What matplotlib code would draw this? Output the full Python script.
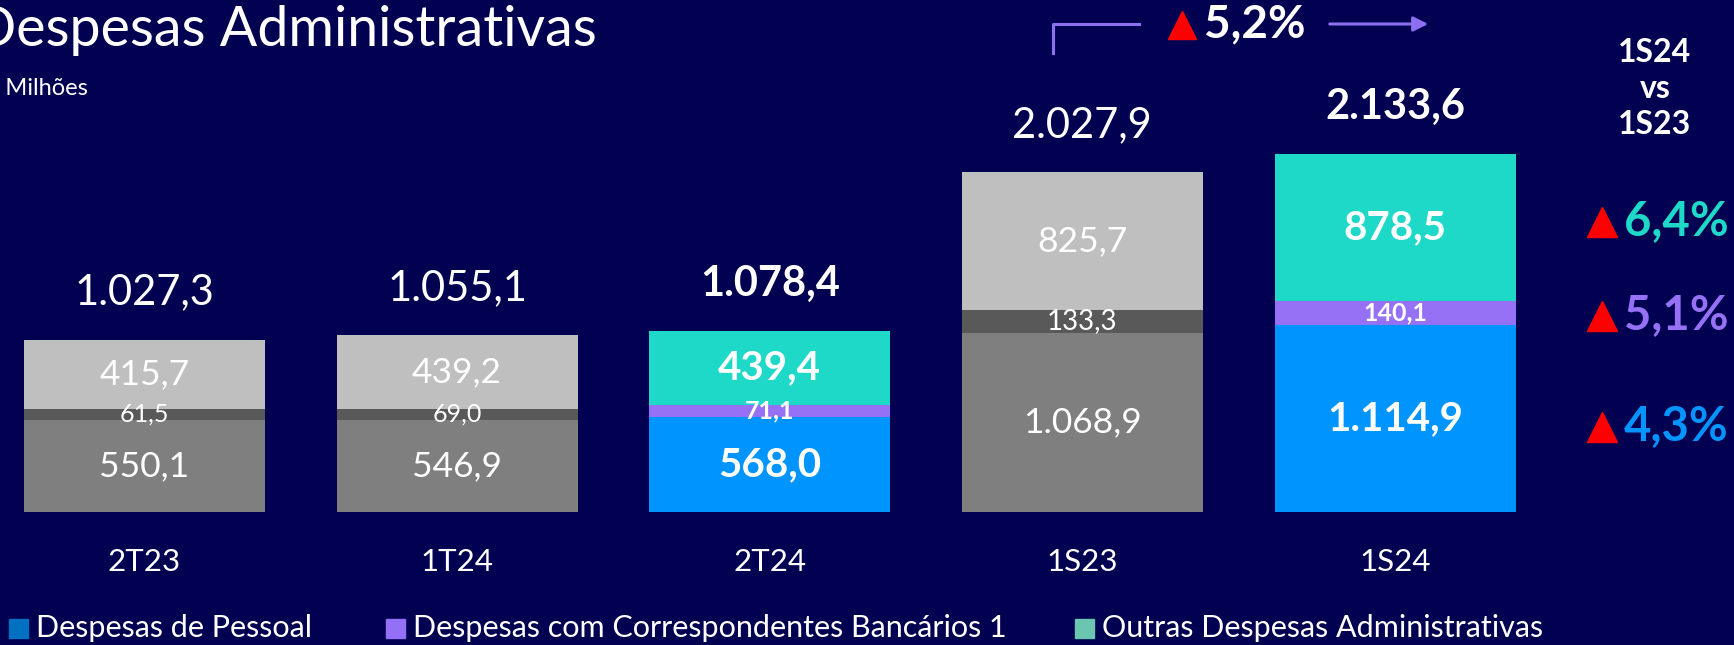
import numpy as np
import matplotlib
matplotlib.use("Agg")
import matplotlib.pyplot as plt
from matplotlib.lines import Line2D
from matplotlib.patches import Rectangle, FancyArrowPatch

# ── dados ─────────────────────────────────────────────────────────────
periods         = ["2T23", "1T24", "2T24", "1S23", "1S24"]
pessoal         = [550.1, 546.9, 568.0, 1068.9, 1114.9]
correspondentes = [61.5, 69.0, 71.1, 133.3, 140.1]
outras          = [415.7, 439.2, 439.4, 825.7, 878.5]
totals          = [1027.3, 1055.1, 1078.4, 2027.9, 2133.6]
highlight       = [False, False, True, False, True]

var_total = 5.2                       # 1S24 vs 1S23
var_rows  = [6.4, 5.1, 4.3]           # outras, correspondentes, pessoal

legend_labels = ["Despesas de Pessoal",
                 "Despesas com Correspondentes Bancários 1",
                 "Outras Despesas Administrativas"]

# ── estilo ────────────────────────────────────────────────────────────
BG = "#020050"
GREY = ["#7F7F7F", "#595959", "#BFBFBF"]        # pessoal, corresp., outras
COLOR = ["#0094FF", "#9670F5", "#1ED8C8"]
LEG_COLOR = ["#0070C0", "#9370F5", "#6CC5B0"]
ARROW = "#8B6FF0"
RED = "#FF0000"
plt.rcParams["font.family"] = ["Lato", "DejaVu Sans"]

W, H = 1734, 645
fig = plt.figure(figsize=(W / 100, H / 100), dpi=100, facecolor=BG)


def fx(x):
    return x / W


def fy(y):
    return 1 - y / H


def br(v, nd=1):
    s = f"{v:,.{nd}f}"
    return s.replace(",", "X").replace(".", ",").replace("X", ".")


# eixo ocupando a figura toda, escala fixada pelos pixels da referência
BASE_PX, TOP_PX = 512, 154
C0, C4 = 144.5, 1395.0
upp = max(totals) / (BASE_PX - TOP_PX)
sp = (C4 - C0) / 4
ax = fig.add_axes([0, 0, 1, 1])
ax.set_facecolor(BG)
ax.set_xlim(-C0 / sp, (W - C0) / sp)
ax.set_ylim(-(H - BASE_PX) * upp, BASE_PX * upp)
ax.axis("off")

x = np.arange(len(periods))
bw = 241 / sp
mid_size = [18, 18, 18, 20, 18]
for i in x:
    hl = highlight[i]
    cols = COLOR if hl else GREY
    wt = "bold" if hl else "normal"
    ax.bar(i, pessoal[i], bw, color=cols[0])
    ax.bar(i, correspondentes[i], bw, bottom=pessoal[i], color=cols[1])
    ax.bar(i, outras[i], bw, bottom=pessoal[i] + correspondentes[i], color=cols[2])

    big = 29 if hl else 25.5
    ax.text(i, pessoal[i] / 2, br(pessoal[i]), ha="center", va="center",
            color="white", fontsize=big, fontweight=wt)
    ax.text(i, pessoal[i] + correspondentes[i] / 2, br(correspondentes[i]),
            ha="center", va="center", color="white", fontsize=mid_size[i],
            fontweight=wt)
    ax.text(i, pessoal[i] + correspondentes[i] + outras[i] / 2, br(outras[i]),
            ha="center", va="center", color="white", fontsize=big, fontweight=wt)
    ax.text(i, totals[i] + 47 * upp, br(totals[i]), ha="center", va="center",
            color="white", fontsize=30, fontweight=wt)
    ax.text(i, -50 * upp, periods[i], ha="center", va="center",
            color="white", fontsize=22.5)

# título
fig.text(fx(597), fy(46), "Despesas Administrativas", color="white",
         fontsize=40, va="baseline", ha="right")
fig.text(fx(88), fy(88), "R$ Milhões", color="white", fontsize=17,
         va="center", ha="right")

# seta de variação no topo
fig.add_artist(Line2D([fx(1053), fx(1053), fx(1139)], [fy(53), fy(24), fy(24)],
                      color=ARROW, lw=2.2))
fig.add_artist(FancyArrowPatch((fx(1327), fy(24)), (fx(1431), fy(24)),
                               transform=fig.transFigure, arrowstyle="-|>",
                               mutation_scale=22, color=ARROW, lw=2.2))
fig.add_artist(Line2D([fx(1182)], [fy(25)], marker="^", ms=20, color=RED,
                      ls="none"))
fig.text(fx(1204), fy(24), f"{br(var_total)}%", color="white", fontsize=33,
         fontweight="bold", va="center", ha="left")

# 1S24 vs 1S23
for s, yy in zip(["1S24", "vs", "1S23"], [52, 88, 125]):
    fig.text(fx(1655), fy(yy), s, color="white", fontsize=23, fontweight="bold",
             ha="center", va="center")

renderer = fig.canvas.get_renderer()
row_y = [221, 315, 426]
row_col = [COLOR[2], COLOR[1], COLOR[0]]
for v, yy, c in zip(var_rows, row_y, row_col):
    t = fig.text(fx(1729), fy(yy), f"{br(v)}%", color=c, fontsize=34,
                 fontweight="bold", ha="right", va="center")
    bb = t.get_window_extent(renderer)
    fig.add_artist(Line2D([(bb.x0 - 22) / W], [fy(yy + 1)], marker="^", ms=21,
                          color=RED, ls="none"))

# legenda
leg_x = [9, 386, 1075]
for lx, lab, c in zip(leg_x, legend_labels, LEG_COLOR):
    fig.add_artist(Rectangle((fx(lx), fy(638)), 19 / W, 19 / H,
                             transform=fig.transFigure, color=c))
    fig.text(fx(lx + 27), fy(628), lab, color="white", fontsize=22,
             ha="left", va="center")

fig.savefig("out.png", dpi=100, facecolor=BG)
